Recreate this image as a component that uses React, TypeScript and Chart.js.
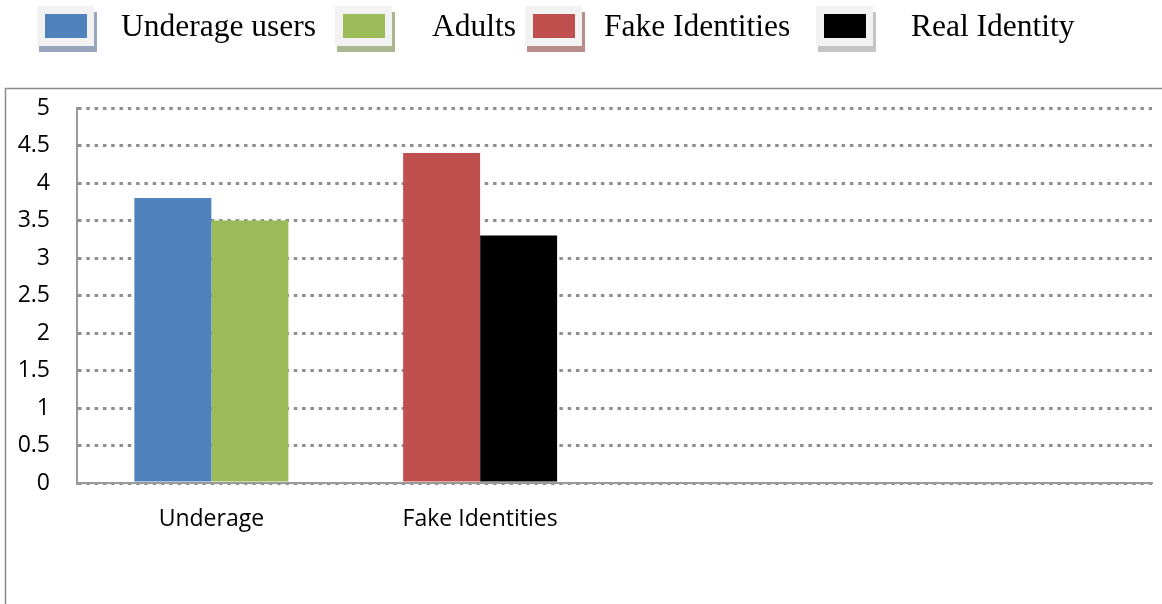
import React, { useEffect, useRef } from "react";
import { Chart, registerables } from "chart.js";

Chart.register(...registerables);

const categories = ["Underage", "Fake Identities", "", ""];
const seriesLabels = ["Underage users", "Adults", "Fake Identities", "Real Identity"];
const underageUsers = [3.8, null, null, null];
const adults = [3.5, null, null, null];
const fakeIdentities = [null, 4.4, null, null];
const realIdentity = [null, 3.3, null, null];
const seriesColors = ["#4f81bd", "#9bbb59", "#c0504d", "#000000"];
const shadowColors = ["#98a6bd", "#aab791", "#b98c8c", "#c4c4c4"];

const W = 1162;
const H = 604;

const frameAndLegend = {
  id: "frameAndLegend",
  afterDraw(chart: any) {
    const ctx = chart.ctx;
    ctx.save();
    // outer frame
    ctx.strokeStyle = "#8a8a8a";
    ctx.lineWidth = 1.5;
    ctx.beginPath();
    ctx.moveTo(5.5, H);
    ctx.lineTo(5.5, 88.5);
    ctx.lineTo(W, 88.5);
    ctx.stroke();

    // legend
    const boxX = [37, 335, 525, 816];
    const textX = [121, 432, 604, 911];
    ctx.font = '31.5px "Liberation Serif", "Times New Roman", serif';
    ctx.textBaseline = "alphabetic";
    ctx.textAlign = "left";
    chart.data.datasets.forEach((ds: any, i: number) => {
      const x = boxX[i];
      const y = 6;
      ctx.fillStyle = shadowColors[i];
      ctx.fillRect(x + 2, y + 6, 58, 40);
      ctx.fillStyle = "#f2f2f2";
      ctx.fillRect(x, y, 57, 40);
      ctx.fillStyle = ds.backgroundColor;
      ctx.fillRect(x + 8, y + 8, 42, 24);
      ctx.fillStyle = "#000000";
      ctx.fillText(ds.label, textX[i], 35.5);
    });
    ctx.restore();
  },
};

export default function App() {
  const ref = useRef<HTMLCanvasElement | null>(null);
  useEffect(() => {
    if (!ref.current) return;
    const series = [underageUsers, adults, fakeIdentities, realIdentity];
    const chart = new Chart(ref.current, {
      type: "bar",
      data: {
        labels: categories,
        datasets: series.map((d, i) => ({
          label: seriesLabels[i],
          data: d as any,
          backgroundColor: seriesColors[i],
          borderWidth: 0,
          skipNull: true,
          categoryPercentage: 0.573,
          barPercentage: 1,
        })),
      },
      options: {
        responsive: false,
        animation: false,
        devicePixelRatio: 1,
        layout: { padding: { top: 108, right: 10, left: 0, bottom: 0 } },
        plugins: { legend: { display: false }, tooltip: { enabled: false } },
        scales: {
          x: {
            grid: { display: false },
            border: { display: true, color: "#9a9a9a", width: 2 },
            ticks: {
              padding: 15,
              color: "#000000",
              font: { family: '"Open Sans", sans-serif', size: 23 },
              maxRotation: 0,
              autoSkip: false,
            },
            afterFit: (s: any) => {
              s.height = H - 483;
            },
          },
          y: {
            min: 0,
            max: 5,
            ticks: {
              stepSize: 0.5,
              padding: 27,
              color: "#000000",
              font: { family: '"Open Sans", sans-serif', size: 23 },
              callback: (v: any) => String(Number(v)),
            },
            grid: { color: "#8f8f8f", lineWidth: 3, drawTicks: false },
            border: { display: true, color: "#9a9a9a", width: 2, dash: [3.5, 4.8] },
            afterFit: (s: any) => {
              s.width = 77;
            },
          },
        },
      },
      plugins: [frameAndLegend],
    });
    return () => chart.destroy();
  }, []);
  return (
    <div style={{ position: "absolute", left: 0, top: 0, width: W, height: H, background: "#fff" }}>
      <canvas ref={ref} width={W} height={H} style={{ display: "block" }} />
    </div>
  );
}
